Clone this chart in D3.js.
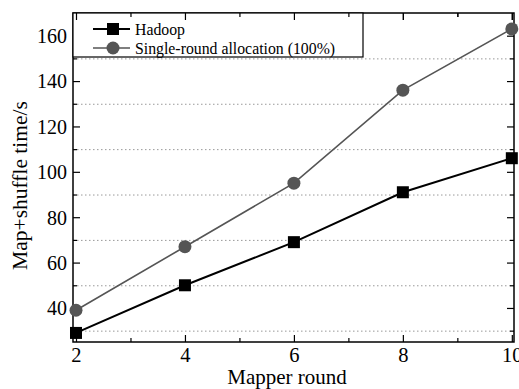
<!DOCTYPE html>
<html>
<head>
<meta charset="utf-8">
<script src="https://cdn.jsdelivr.net/npm/d3@7"></script>
<style>
  html, body { margin: 0; padding: 0; background: #fff; }
  svg { display: block; }
  svg text { font-family: "Liberation Serif", "Times New Roman", serif; fill: #000; }
</style>
</head>
<body>
<svg id="chart" width="519" height="389"></svg>
<script>
// Mapper rounds on the x axis
const rounds = [2, 4, 6, 8, 10];
// Map+shuffle time (seconds) per series
const hadoop = [29, 50, 69, 91, 106];
const singleRound = [39, 67, 95, 136, 163];
const seriesNames = ["Hadoop", "Single-round allocation (100%)"];
const xTicks = [2, 4, 6, 8, 10];
const xMinorTicks = [3, 5, 7, 9];
const yTicks = [40, 60, 80, 100, 120, 140, 160];
const yMinorTicks = [30, 50, 70, 90, 110, 130, 150];

const svg = d3.select("#chart");
const m = { left: 73, top: 13, right: 5, bottom: 47 };
const W = 519, H = 389;
const x = d3.scaleLinear().domain([1.945, 10.04]).range([m.left, W - m.right]);
const y = d3.scaleLinear().domain([25, 170]).range([H - m.bottom, m.top]);

// dotted grid at the minor y ticks
svg.append("g").selectAll("line").data(yMinorTicks).join("line")
  .attr("x1", x.range()[0]).attr("x2", x.range()[1])
  .attr("y1", d => y(d) + 0.5).attr("y2", d => y(d) + 0.5)
  .attr("stroke", "#999").attr("stroke-width", 1).attr("stroke-dasharray", "1.5,2.5");

// axes with inward ticks on all four sides
function addAxis(axisFn, scale, ticks, len, transform, labels) {
  const a = axisFn(scale).tickValues(ticks).tickSizeInner(-len).tickSizeOuter(0);
  if (!labels) a.tickFormat("");
  const g = svg.append("g").attr("transform", transform).call(a)
    .attr("font-family", "Liberation Serif").attr("font-size", 20);
  g.select(".domain").remove();
  g.selectAll(".tick line").attr("stroke", "#000").attr("stroke-width", 1.2);
  return g;
}
const bx = `translate(0,${H - m.bottom})`, tx = `translate(0,${m.top})`;
const lx = `translate(${m.left},0)`, rx = `translate(${W - m.right},0)`;
const gxb = addAxis(d3.axisBottom, x, xTicks, 7, bx, true);
addAxis(d3.axisBottom, x, xMinorTicks, 4, bx, false);
addAxis(d3.axisTop, x, xTicks, 7, tx, false);
addAxis(d3.axisTop, x, xMinorTicks, 4, tx, false);
const gyl = addAxis(d3.axisLeft, y, yTicks, 7, lx, true);
addAxis(d3.axisLeft, y, yMinorTicks, 4, lx, false);
addAxis(d3.axisRight, y, yTicks, 7, rx, false);
addAxis(d3.axisRight, y, yMinorTicks, 4, rx, false);

gxb.selectAll(".tick text").attr("y", 5).attr("dy", "0.71em").attr("font-size", 20.5);
gyl.selectAll(".tick text").attr("x", -6).attr("dy", "0.34em").attr("font-size", 20);

// frame
svg.append("rect")
  .attr("x", m.left).attr("y", m.top)
  .attr("width", W - m.right - m.left).attr("height", H - m.bottom - m.top)
  .attr("fill", "none").attr("stroke", "#000").attr("stroke-width", 1.5);

// axis titles
svg.append("text").attr("x", 287).attr("y", 384)
  .attr("text-anchor", "middle").attr("font-size", 21).text("Mapper round");
svg.append("text").attr("transform", "translate(27,185.5) rotate(-90)")
  .attr("text-anchor", "middle").attr("font-size", 21.5).text("Map+shuffle time/s");

// series
const line = d3.line().x((d, i) => x(rounds[i])).y(d => y(d));
svg.append("path").datum(singleRound).attr("d", line)
  .attr("fill", "none").attr("stroke", "#555").attr("stroke-width", 1.6);
svg.append("path").datum(hadoop).attr("d", line)
  .attr("fill", "none").attr("stroke", "#000").attr("stroke-width", 2);

svg.append("g").selectAll("circle").data(singleRound).join("circle")
  .attr("cx", (d, i) => x(rounds[i])).attr("cy", d => y(d)).attr("r", 6.5)
  .attr("fill", "#555");
const sq = 12;
svg.append("g").selectAll("rect").data(hadoop).join("rect")
  .attr("x", (d, i) => x(rounds[i]) - sq / 2).attr("y", d => y(d) - sq / 2)
  .attr("width", sq).attr("height", sq).attr("fill", "#000");

// legend
const lg = svg.append("g");
lg.append("rect").attr("x", m.left).attr("y", m.top).attr("width", 290).attr("height", 44)
  .attr("fill", "#fff").attr("stroke", "#000").attr("stroke-width", 1.2);
const ly = [29, 48];
lg.append("line").attr("x1", 93).attr("x2", 130).attr("y1", ly[0]).attr("y2", ly[0])
  .attr("stroke", "#000").attr("stroke-width", 2);
lg.append("rect").attr("x", 113 - sq / 2).attr("y", ly[0] - sq / 2).attr("width", sq).attr("height", sq).attr("fill", "#000");
lg.append("line").attr("x1", 93).attr("x2", 130).attr("y1", ly[1]).attr("y2", ly[1])
  .attr("stroke", "#555").attr("stroke-width", 1.6);
lg.append("circle").attr("cx", 113).attr("cy", ly[1]).attr("r", 6.5).attr("fill", "#555");
lg.selectAll("text.lab").data(seriesNames).join("text").attr("class", "lab")
  .attr("x", 135).attr("y", (d, i) => ly[i]).attr("dy", "0.35em")
  .attr("font-size", 15.8).text(d => d);

// redraw top ticks over the legend box
addAxis(d3.axisTop, x, xTicks, 7, tx, false);
addAxis(d3.axisTop, x, xMinorTicks, 4, tx, false);
</script>
</body>
</html>
